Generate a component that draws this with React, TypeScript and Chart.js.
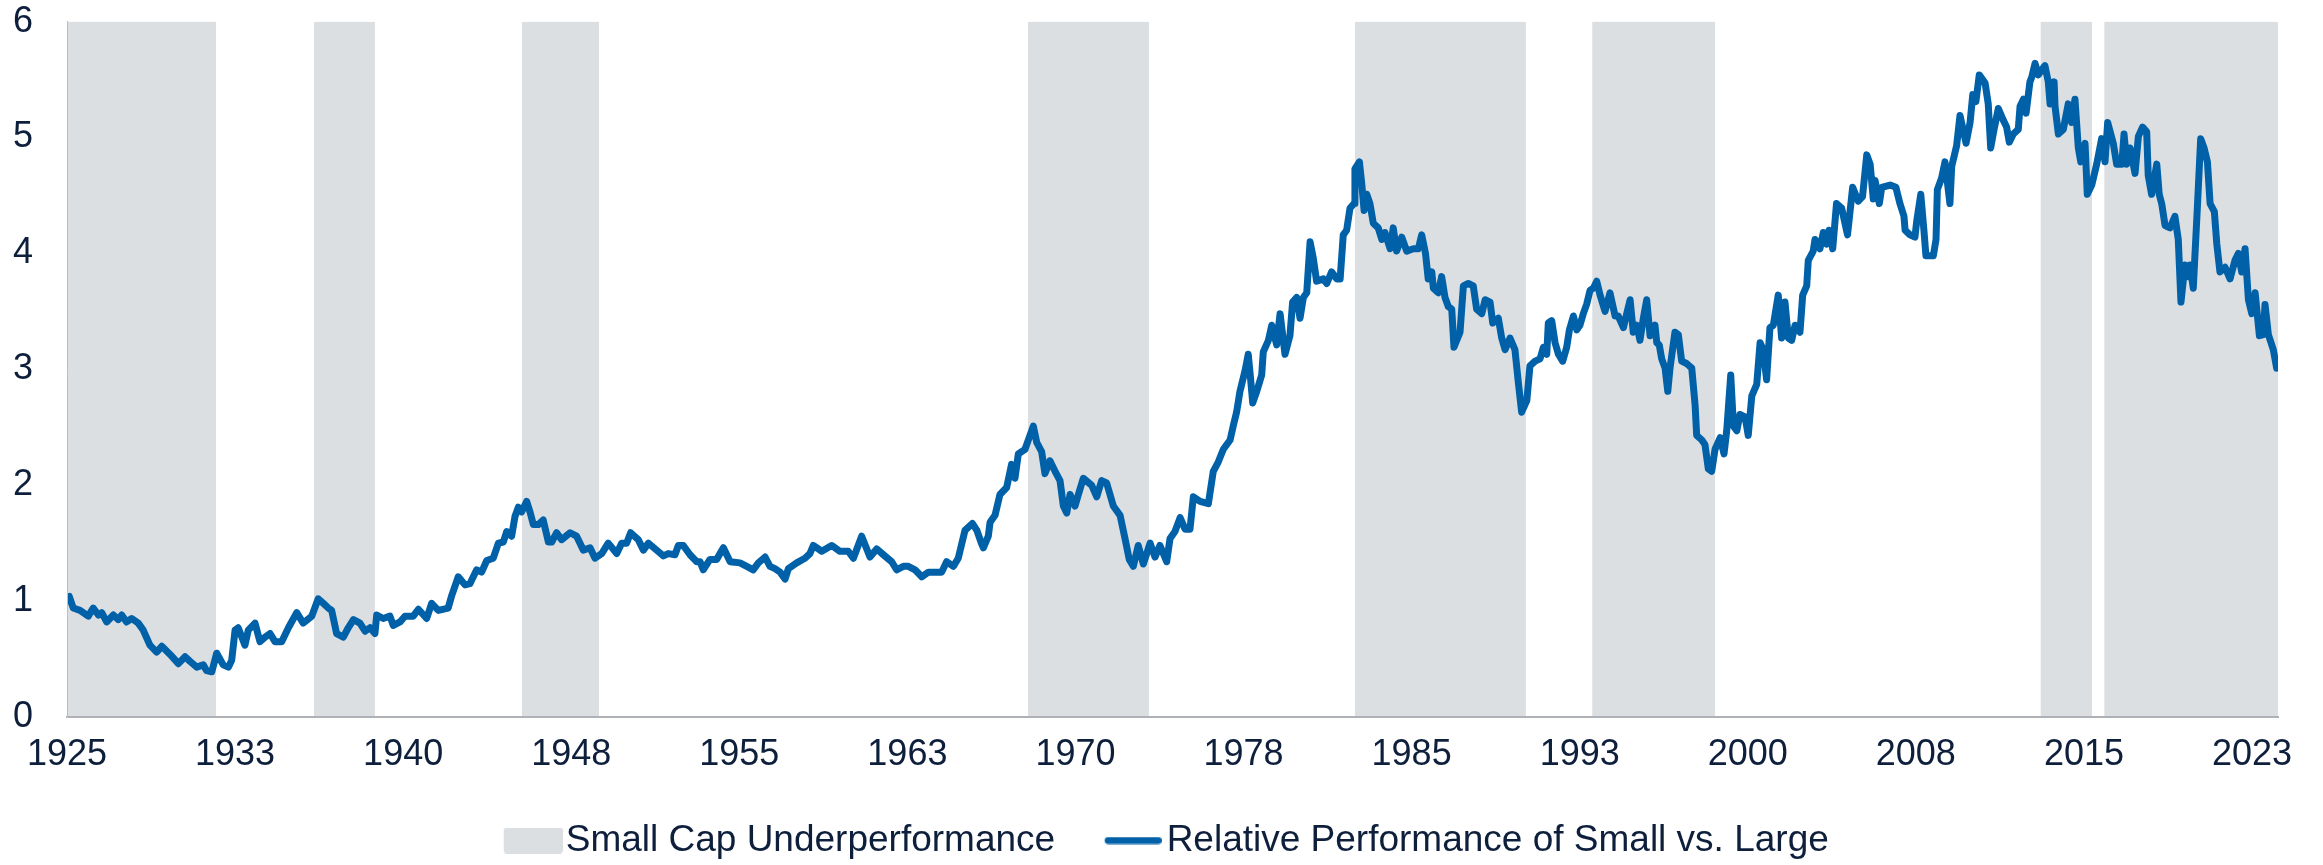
import React, { useEffect, useRef } from 'react';
import { Chart, registerables } from 'chart.js';

Chart.register(...registerables);

// ---- Data (decimal year, relative performance of small vs. large caps) ----
const dates: number[] = [
  1925.10, 1925.28, 1925.58, 1925.95, 1926.17, 1926.40, 1926.55, 1926.77, 1927.07, 1927.29,
  1927.44, 1927.66, 1927.89, 1928.18, 1928.40, 1928.70, 1929.00, 1929.23, 1929.60, 1929.97,
  1930.27, 1930.49, 1930.79, 1931.08, 1931.23, 1931.46, 1931.68, 1931.97, 1932.20, 1932.35,
  1932.50, 1932.64, 1932.94, 1933.09, 1933.39, 1933.61, 1933.84, 1934.06, 1934.28, 1934.58,
  1934.88, 1935.25, 1935.54, 1935.92, 1936.21, 1936.44, 1936.66, 1936.81, 1937.03, 1937.33,
  1937.55, 1937.78, 1938.07, 1938.30, 1938.52, 1938.74, 1938.82, 1939.11, 1939.41, 1939.56,
  1939.86, 1940.08, 1940.45, 1940.68, 1941.05, 1941.27, 1941.57, 1942.01, 1942.17, 1942.46,
  1942.76, 1942.98, 1943.28, 1943.50, 1943.73, 1944.02, 1944.25, 1944.47, 1944.62, 1944.84,
  1944.99, 1945.14, 1945.29, 1945.51, 1945.66, 1945.81, 1946.03, 1946.25, 1946.48, 1946.63,
  1946.85, 1947.07, 1947.45, 1947.74, 1948.04, 1948.34, 1948.56, 1948.86, 1949.15, 1949.53,
  1949.75, 1949.97, 1950.15, 1950.49, 1950.72, 1950.94, 1951.31, 1951.61, 1951.83, 1952.13,
  1952.28, 1952.50, 1952.80, 1953.10, 1953.25, 1953.39, 1953.69, 1953.99, 1954.29, 1954.59,
  1955.03, 1955.33, 1955.62, 1955.85, 1956.15, 1956.37, 1956.59, 1956.82, 1957.04, 1957.19,
  1957.56, 1957.93, 1958.15, 1958.30, 1958.68, 1959.12, 1959.49, 1959.86, 1960.09, 1960.46,
  1960.83, 1961.13, 1961.43, 1961.80, 1962.02, 1962.32, 1962.54, 1962.84, 1963.14, 1963.44,
  1964.03, 1964.25, 1964.55, 1964.77, 1965.07, 1965.40, 1965.60, 1965.80, 1965.89, 1966.11,
  1966.19, 1966.41, 1966.63, 1966.93, 1967.15, 1967.30, 1967.45, 1967.75, 1967.97, 1968.12,
  1968.27, 1968.49, 1968.64, 1968.86, 1969.09, 1969.31, 1969.46, 1969.61, 1969.76, 1969.98,
  1970.13, 1970.35, 1970.72, 1970.95, 1971.17, 1971.39, 1971.69, 1971.99, 1972.21, 1972.40,
  1972.58, 1972.80, 1973.03, 1973.33, 1973.55, 1973.77, 1974.07, 1974.22, 1974.44, 1974.67,
  1974.89, 1975.11, 1975.26, 1975.56, 1975.93, 1976.15, 1976.37, 1976.60, 1976.90, 1977.04,
  1977.19, 1977.34, 1977.57, 1977.71, 1977.79, 1977.91, 1978.09, 1978.31, 1978.38, 1978.61,
  1978.76, 1978.98, 1979.13, 1979.35, 1979.57, 1979.69, 1979.87, 1980.02, 1980.17, 1980.32,
  1980.47, 1980.61, 1980.76, 1981.06, 1981.21, 1981.43, 1981.66, 1981.81, 1981.95, 1982.10,
  1982.25, 1982.43, 1982.47, 1982.67, 1982.77, 1982.88, 1983.00, 1983.14, 1983.29, 1983.51,
  1983.67, 1983.81, 1984.04, 1984.18, 1984.33, 1984.56, 1984.78, 1985.08, 1985.30, 1985.45,
  1985.62, 1985.74, 1985.90, 1985.97, 1986.19, 1986.34, 1986.49, 1986.64, 1986.79, 1986.89,
  1987.16, 1987.31, 1987.53, 1987.75, 1987.90, 1988.13, 1988.28, 1988.50, 1988.62, 1988.87,
  1989.02, 1989.17, 1989.39, 1989.61, 1989.76, 1989.91, 1990.14, 1990.28, 1990.51, 1990.73,
  1990.88, 1991.03, 1991.10, 1991.25, 1991.40, 1991.55, 1991.74, 1991.92, 1992.04, 1992.22,
  1992.37, 1992.51, 1992.66, 1992.81, 1992.96, 1993.11, 1993.26, 1993.41, 1993.63, 1993.85,
  1994.08, 1994.22, 1994.45, 1994.60, 1994.75, 1994.89, 1995.05, 1995.19, 1995.34, 1995.49,
  1995.64, 1995.86, 1995.94, 1996.05, 1996.16, 1996.31, 1996.43, 1996.53, 1996.75, 1996.90,
  1997.05, 1997.27, 1997.50, 1997.65, 1997.72, 1997.95, 1998.09, 1998.24, 1998.39, 1998.54,
  1998.77, 1998.94, 1999.06, 1999.24, 1999.36, 1999.51, 1999.65, 1999.88, 2000.02, 2000.18,
  2000.40, 2000.55, 2000.69, 2000.84, 2000.99, 2001.14, 2001.36, 2001.51, 2001.66, 2001.81,
  2001.96, 2002.11, 2002.33, 2002.45, 2002.63, 2002.70, 2002.92, 2003.00, 2003.22, 2003.37,
  2003.52, 2003.63, 2003.79, 2003.96, 2004.19, 2004.45, 2004.68, 2004.93, 2005.12, 2005.31,
  2005.46, 2005.60, 2005.68, 2005.87, 2005.98, 2006.35, 2006.61, 2006.79, 2006.97, 2007.02,
  2007.24, 2007.46, 2007.54, 2007.72, 2007.86, 2007.95, 2008.28, 2008.40, 2008.46, 2008.65,
  2008.80, 2009.02, 2009.10, 2009.32, 2009.47, 2009.74, 2009.92, 2010.04, 2010.18, 2010.33,
  2010.59, 2010.73, 2010.84, 2010.99, 2011.18, 2011.40, 2011.55, 2011.67, 2011.85, 2012.07,
  2012.15, 2012.30, 2012.42, 2012.59, 2012.67, 2012.82, 2012.96, 2013.26, 2013.41, 2013.49,
  2013.67, 2013.71, 2013.86, 2014.08, 2014.30, 2014.45, 2014.60, 2014.75, 2014.86, 2015.05,
  2015.15, 2015.35, 2015.57, 2015.79, 2015.94, 2016.06, 2016.31, 2016.46, 2016.69, 2016.79,
  2016.91, 2017.06, 2017.28, 2017.43, 2017.62, 2017.80, 2017.87, 2018.02, 2018.25, 2018.36,
  2018.47, 2018.62, 2018.84, 2019.06, 2019.21, 2019.33, 2019.51, 2019.66, 2019.73, 2019.88,
  2020.06, 2020.21, 2020.36, 2020.51, 2020.63, 2020.82, 2020.93, 2021.07, 2021.30, 2021.52,
  2021.74, 2021.89, 2022.04, 2022.19, 2022.34, 2022.49, 2022.64, 2022.83, 2023.01, 2023.08,
  2023.23, 2023.45, 2023.60,
];

const relPerf: number[] = [
  1.04, 0.94, 0.92, 0.87, 0.94, 0.88, 0.90, 0.82, 0.88, 0.84,
  0.88, 0.82, 0.85, 0.81, 0.75, 0.62, 0.56, 0.61, 0.54, 0.46,
  0.52, 0.48, 0.43, 0.45, 0.40, 0.39, 0.55, 0.45, 0.43, 0.49,
  0.75, 0.77, 0.62, 0.75, 0.81, 0.65, 0.69, 0.72, 0.65, 0.65,
  0.77, 0.90, 0.81, 0.87, 1.02, 0.98, 0.94, 0.92, 0.72, 0.69,
  0.77, 0.84, 0.81, 0.74, 0.77, 0.72, 0.88, 0.85, 0.87, 0.79,
  0.82, 0.87, 0.87, 0.93, 0.85, 0.98, 0.92, 0.94, 1.05, 1.21,
  1.14, 1.15, 1.27, 1.25, 1.35, 1.37, 1.50, 1.51, 1.60, 1.56,
  1.73, 1.81, 1.77, 1.86, 1.77, 1.66, 1.66, 1.70, 1.51, 1.51,
  1.59, 1.53, 1.59, 1.56, 1.44, 1.46, 1.37, 1.41, 1.50, 1.41,
  1.50, 1.50, 1.59, 1.53, 1.44, 1.50, 1.44, 1.39, 1.41, 1.40,
  1.48, 1.48, 1.40, 1.34, 1.34, 1.27, 1.36, 1.36, 1.46, 1.34,
  1.33, 1.30, 1.27, 1.33, 1.38, 1.30, 1.28, 1.25, 1.19, 1.28,
  1.33, 1.37, 1.41, 1.48, 1.43, 1.48, 1.43, 1.43, 1.37, 1.56,
  1.38, 1.45, 1.40, 1.34, 1.27, 1.30, 1.30, 1.27, 1.21, 1.25,
  1.25, 1.34, 1.30, 1.37, 1.61, 1.67, 1.61, 1.50, 1.46, 1.56,
  1.68, 1.74, 1.92, 1.98, 2.18, 2.06, 2.27, 2.31, 2.43, 2.51,
  2.37, 2.29, 2.10, 2.21, 2.12, 2.04, 1.82, 1.76, 1.92, 1.82,
  1.92, 2.06, 2.00, 1.90, 2.04, 2.02, 1.82, 1.74, 1.54, 1.36,
  1.30, 1.48, 1.32, 1.50, 1.38, 1.48, 1.34, 1.54, 1.60, 1.72,
  1.62, 1.62, 1.90, 1.86, 1.84, 2.12, 2.20, 2.31, 2.39, 2.51,
  2.63, 2.81, 2.99, 3.13, 2.97, 2.71, 2.81, 2.95, 3.15, 3.25,
  3.38, 3.21, 3.48, 3.13, 3.29, 3.58, 3.62, 3.44, 3.62, 3.66,
  4.10, 3.96, 3.76, 3.78, 3.74, 3.84, 3.78, 3.78, 4.16, 4.20,
  4.39, 4.43, 4.73, 4.79, 4.61, 4.37, 4.51, 4.43, 4.26, 4.22,
  4.12, 4.18, 4.04, 4.22, 4.02, 4.14, 4.02, 4.04, 4.04, 4.16,
  4.00, 3.78, 3.84, 3.70, 3.66, 3.80, 3.62, 3.54, 3.52, 3.19,
  3.32, 3.72, 3.74, 3.72, 3.52, 3.48, 3.60, 3.58, 3.40, 3.44,
  3.27, 3.17, 3.27, 3.17, 2.89, 2.63, 2.73, 3.03, 3.07, 3.09,
  3.19, 3.13, 3.40, 3.42, 3.23, 3.13, 3.07, 3.19, 3.34, 3.46,
  3.34, 3.38, 3.48, 3.56, 3.68, 3.70, 3.76, 3.64, 3.50, 3.66,
  3.46, 3.46, 3.36, 3.48, 3.60, 3.32, 3.38, 3.25, 3.44, 3.60,
  3.29, 3.38, 3.23, 3.21, 3.09, 3.01, 2.81, 3.01, 3.32, 3.30,
  3.07, 3.05, 3.01, 2.69, 2.43, 2.39, 2.35, 2.14, 2.12, 2.31,
  2.41, 2.27, 2.47, 2.95, 2.51, 2.47, 2.61, 2.59, 2.43, 2.77,
  2.87, 3.23, 3.17, 2.91, 3.36, 3.38, 3.64, 3.27, 3.58, 3.27,
  3.25, 3.38, 3.32, 3.64, 3.72, 3.94, 4.02, 4.12, 4.04, 4.18,
  4.08, 4.20, 4.04, 4.43, 4.39, 4.16, 4.57, 4.45, 4.49, 4.85,
  4.77, 4.47, 4.63, 4.43, 4.57, 4.59, 4.57, 4.43, 4.32, 4.20,
  4.16, 4.14, 4.28, 4.51, 4.20, 3.98, 3.98, 4.12, 4.55, 4.65,
  4.79, 4.43, 4.75, 4.93, 5.19, 4.95, 5.13, 5.37, 5.31, 5.54,
  5.47, 5.29, 4.91, 5.07, 5.25, 5.15, 5.09, 4.96, 5.03, 5.07,
  5.27, 5.33, 5.21, 5.48, 5.52, 5.64, 5.54, 5.62, 5.48, 5.29,
  5.48, 5.27, 5.03, 5.07, 5.29, 5.13, 5.33, 4.91, 4.79, 4.95,
  4.51, 4.59, 4.77, 4.99, 4.79, 5.13, 4.95, 4.77, 4.77, 5.03,
  4.77, 4.91, 4.69, 5.01, 5.09, 5.05, 4.67, 4.51, 4.77, 4.51,
  4.43, 4.24, 4.22, 4.32, 4.12, 3.58, 3.90, 3.80, 3.90, 3.70,
  4.39, 4.99, 4.91, 4.79, 4.43, 4.36, 4.08, 3.84, 3.88, 3.78,
  3.94, 4.00, 3.84, 4.04, 3.60, 3.48, 3.66, 3.29, 3.30, 3.56,
  3.30, 3.17, 3.01,
];

// Small cap underperformance periods (decimal years)
const bandStarts: number[] = [1925.0, 1936.02, 1945.30, 1967.88, 1982.47, 1993.06, 2013.07, 2015.91];
const bandEnds: number[] = [1931.65, 1938.74, 1948.74, 1973.28, 1990.10, 1998.54, 2015.36, 2023.66];

// Axis ticks
const xTickPositions: number[] = [1925, 1932.5, 1940, 1947.5, 1955, 1962.5, 1970, 1977.5, 1985, 1992.5, 2000, 2007.5, 2015, 2022.5];
const xTickLabels: string[] = ['1925', '1933', '1940', '1948', '1955', '1963', '1970', '1978', '1985', '1993', '2000', '2008', '2015', '2023'];
const xMin = 1925;
const xMax = 2023.66;
const yMin = 0;
const yMax = 6;

const seriesLabels: string[] = ['Small Cap Underperformance', 'Relative Performance of Small vs. Large'];

// ---- Styles ----
const TEXT = '#0E1F3C';
const BAND = '#DCDFE2';
const LINE = '#0061A8';
const AXIS = '#AEB2B7';
const FONT = "'Liberation Sans', Arial, Helvetica, sans-serif";
const LEGEND_W = 85;

function makeLegendImage(kind: 'band' | 'line'): HTMLCanvasElement {
  const c = document.createElement('canvas');
  if (kind === 'band') {
    c.width = 116;
    c.height = 26;
    const g = c.getContext('2d')!;
    g.fillStyle = BAND;
    g.beginPath();
    if ((g as any).roundRect) (g as any).roundRect(116 - 59, 0, 59, 26, 3);
    else g.rect(116 - 59, 0, 59, 26);
    g.fill();
  } else {
    c.width = 112;
    c.height = 8;
    const g = c.getContext('2d')!;
    g.strokeStyle = LINE;
    g.lineWidth = 7;
    g.lineCap = 'round';
    g.beginPath();
    g.moveTo(112 - 57 + 3.5, 4);
    g.lineTo(112 - 3.5, 4);
    g.stroke();
  }
  return c;
}

export default function App() {
  const ref = useRef<HTMLCanvasElement | null>(null);

  useEffect(() => {
    if (!ref.current) return;

    const bandData: { x: number; y: number }[] = [];
    bandStarts.forEach((s, i) => {
      bandData.push({ x: s, y: yMin }, { x: s, y: yMax }, { x: bandEnds[i], y: yMax }, { x: bandEnds[i], y: yMin });
    });
    const lineData = dates.map((d, i) => ({ x: d, y: relPerf[i] }));

    const bandImg = makeLegendImage('band');
    const lineImg = makeLegendImage('line');

    const chart = new Chart(ref.current, {
      type: 'line',
      data: {
        datasets: [
          {
            label: seriesLabels[0],
            data: bandData,
            borderWidth: 0,
            borderColor: 'rgba(0,0,0,0)',
            backgroundColor: BAND,
            fill: 'origin',
            pointRadius: 0,
            tension: 0,
          },
          {
            label: seriesLabels[1],
            data: lineData,
            borderColor: LINE,
            backgroundColor: LINE,
            borderWidth: 7,
            pointRadius: 0,
            fill: false,
            tension: 0,
            borderJoinStyle: 'round',
            borderCapStyle: 'round',
          },
        ],
      },
      options: {
        responsive: false,
        maintainAspectRatio: false,
        animation: false,
        events: [],
        layout: { padding: { left: 13, right: 45, top: 21, bottom: 0 } },
        scales: {
          x: {
            type: 'linear',
            min: xMin,
            max: xMax,
            grid: { display: false, drawTicks: true, tickLength: 16 },
            border: { display: true, color: AXIS, width: 2, z: 1 },
            afterBuildTicks: (scale: any) => {
              scale.ticks = xTickPositions.map((v) => ({ value: v }));
            },
            afterFit: (scale: any) => {
              scale.height = 97;
            },
            ticks: {
              autoSkip: false,
              maxRotation: 0,
              minRotation: 0,
              padding: 0,
              color: TEXT,
              font: { family: FONT, size: 36 },
              callback: (_v: any, i: number) => xTickLabels[i],
            },
          },
          y: {
            min: yMin,
            max: yMax,
            grid: { display: false, drawTicks: true, tickLength: 34 },
            border: { display: true, color: '#BABEC3', width: 1, z: 1 },
            afterFit: (scale: any) => {
              scale.width = 54;
            },
            ticks: {
              stepSize: 1,
              padding: 0,
              color: TEXT,
              font: { family: FONT, size: 36 },
            },
          },
        },
        plugins: {
          filler: { drawTime: 'beforeDatasetsDraw' },
          tooltip: { enabled: false },
          legend: {
            position: 'bottom',
            labels: {
              usePointStyle: true,
              pointStyleWidth: LEGEND_W,
              boxHeight: 26,
              padding: 8,
              color: TEXT,
              font: { family: FONT, size: 37 },
              generateLabels: () => [
                {
                  text: seriesLabels[0],
                  fillStyle: BAND,
                  strokeStyle: BAND,
                  lineWidth: 0,
                  pointStyle: bandImg as any,
                  hidden: false,
                  datasetIndex: 0,
                  fontColor: TEXT,
                },
                {
                  text: seriesLabels[1],
                  fillStyle: LINE,
                  strokeStyle: LINE,
                  lineWidth: 0,
                  pointStyle: lineImg as any,
                  hidden: false,
                  datasetIndex: 1,
                  fontColor: TEXT,
                },
              ],
            },
          },
        },
      } as any,
    });

    return () => chart.destroy();
  }, []);

  return (
    <div style={{ position: 'absolute', left: 0, top: 0, width: 2323, height: 865, overflow: 'hidden', background: '#ffffff' }}>
      <canvas ref={ref} width={2323} height={869} style={{ display: 'block' }} />
    </div>
  );
}
